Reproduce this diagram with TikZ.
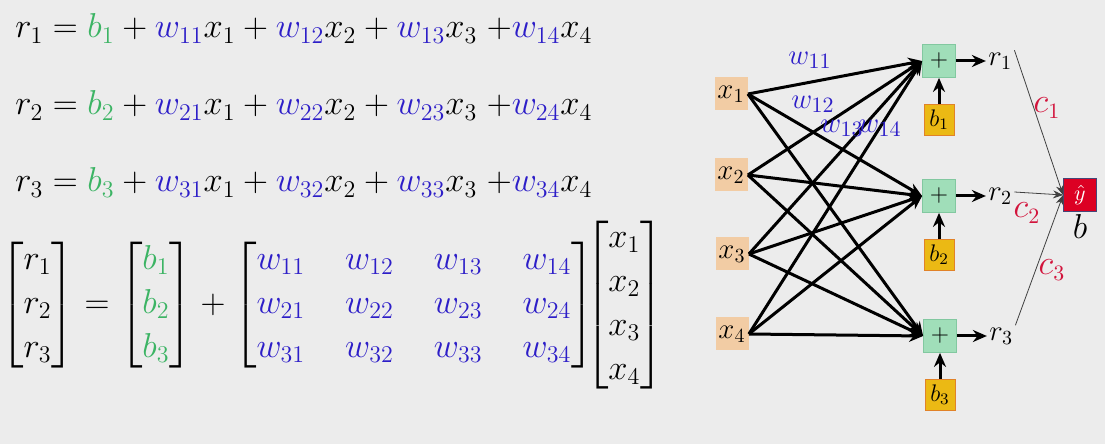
\documentclass[tikz,border=0pt]{standalone}
\usepackage{amsmath}
\usepackage{amssymb}
\usetikzlibrary{
  arrows.meta,  % Stealth 箭头
  positioning   % 节点相对定位
}
\definecolor{bggray}{RGB}{236,236,236}
\definecolor{wblue}{RGB}{45,30,200}
\definecolor{bgreen}{RGB}{60,180,100}
\definecolor{cred}{RGB}{210,20,60}
\definecolor{xfill}{RGB}{242,204,164}
\definecolor{sfill}{RGB}{160,222,185}
\definecolor{sdraw}{RGB}{130,200,160}
\definecolor{bfill}{RGB}{235,185,20}
\definecolor{bdraw}{RGB}{225,130,40}
\definecolor{yfill}{RGB}{220,0,35}
\definecolor{ydraw}{RGB}{70,70,120}

% 权重与偏置的着色
\newcommand{\wc}[1]{\textcolor{wblue}{w_{#1}}}
\newcommand{\bc}[1]{\textcolor{bgreen}{b_{#1}}}

\begin{document}
\begin{tikzpicture}[>=Stealth, x=0.5pt, y=-0.5pt, % 以原图像素为坐标，y 轴向下
  eqn/.style={anchor=base west, inner sep=0pt, font=\fontsize{17}{21.5}\selectfont},
  xbox/.style={fill=xfill, minimum size=16.5pt, inner sep=0pt, font=\fontsize{14}{16}\selectfont},
  sumbox/.style={fill=sfill, draw=sdraw, thin, minimum size=16.5pt, inner sep=0pt, font=\fontsize{12}{14}\selectfont},
  biasbox/.style={fill=bfill, draw=bdraw, thin, minimum width=15pt, minimum height=15.5pt, inner sep=0pt, font=\fontsize{12}{14}\selectfont},
  outbox/.style={fill=yfill, draw=ydraw, thin, minimum size=16.5pt, inner sep=0pt, text=white, font=\fontsize{11}{13}\selectfont},
  rlab/.style={inner sep=1pt, font=\fontsize{14}{16}\selectfont},
  wlab/.style={inner sep=0pt, text=wblue, font=\fontsize{15}{17}\selectfont},
  clab/.style={inner sep=0pt, text=cred, font=\fontsize{16}{18}\selectfont},
  wire/.style={-{Stealth[length=7pt, width=6pt]}, line width=1.5pt},
  thinwire/.style={-{Stealth[length=5pt, width=4pt]}, line width=0.4pt, draw=black!75}
]
  \useasboundingbox (0,0) rectangle (1105,444);
  \fill[bggray] (0,0) rectangle (1105,444);

  % =============== 左侧：逐行展开的线性方程 ===============
  \node[eqn] (eq1) at (15,38)  {$r_1 = \bc{1} + \wc{11}x_1 + \wc{12}x_2 + \wc{13}x_3\;{+}\wc{14}x_4$};
  \node[eqn] (eq2) at (15,115) {$r_2 = \bc{2} + \wc{21}x_1 + \wc{22}x_2 + \wc{23}x_3\;{+}\wc{24}x_4$};
  \node[eqn] (eq3) at (15,192) {$r_3 = \bc{3} + \wc{31}x_1 + \wc{32}x_2 + \wc{33}x_3\;{+}\wc{34}x_4$};

  % 矩阵形式
  \node[eqn, anchor=west, font=\fontsize{17.5}{22}\selectfont] (meq) at (0,305) {$
    \begin{bmatrix} r_1\\ r_2\\ r_3 \end{bmatrix}
    = \begin{bmatrix} \bc{1}\\ \bc{2}\\ \bc{3} \end{bmatrix}
    + {\setlength\arraycolsep{10pt}\begin{bmatrix}
        \wc{11} & \wc{12} & \wc{13} & \wc{14}\\
        \wc{21} & \wc{22} & \wc{23} & \wc{24}\\
        \wc{31} & \wc{32} & \wc{33} & \wc{34}
      \end{bmatrix}}\mkern-8mu
    \begin{bmatrix} x_1\\ x_2\\ x_3\\ x_4 \end{bmatrix}$};

  % =============== 右侧：网络结构 ===============
  % 输入
  \node[xbox] (x1) at (731,94)  {$x_1$};
  \node[xbox] (x2) at (731,175) {$x_2$};
  \node[xbox] (x3) at (732,254) {$x_3$};
  \node[xbox] (x4) at (732,334) {$x_4$};

  % 求和节点、偏置与输出
  \node[sumbox] (s1) at (939,61)  {$+$};
  \node[sumbox] (s2) at (939,196) {$+$};
  \node[sumbox] (s3) at (940,336) {$+$};
  \node[biasbox, below=13pt of s1] (b1) {$b_1$};
  \node[biasbox, below=13pt of s2] (b2) {$b_2$};
  \node[biasbox, below=13pt of s3] (b3) {$b_3$};
  \node[rlab, right=15pt of s1] (r1) {$r_1$};
  \node[rlab, right=15pt of s2] (r2) {$r_2$};
  \node[rlab, right=15pt of s3] (r3) {$r_3$};

  % 输入到求和的全连接
  \foreach \i in {1,...,4}
    \foreach \j in {1,2,3}
      \draw[wire] (x\i.east) -- (s\j.west);
  \foreach \j in {1,2,3} {
    \draw[wire] (b\j) -- (s\j);
    \draw[wire] (s\j) -- (r\j);
  }

  % 权重标注
  \node[wlab] (w11) at (810,60)  {$w_{11}$};
  \node[wlab] (w12) at (813,104) {$w_{12}$};
  \node[wlab] (w13) at (842,128) {$w_{13}$};
  \node[wlab] (w14) at (880,128) {$w_{14}$};

  % 汇总到 y-hat
  \node[outbox] (yhat) at (1080,195) {$\hat{y}$};
  \node[below=0pt of yhat, inner sep=1pt, font=\fontsize{18}{20}\selectfont] (bout) {$b$};
  \draw[thinwire] (r1.north east) -- (yhat.west);
  \draw[thinwire] ([yshift=2pt]r2.east) -- (yhat.west);
  \draw[thinwire] (r3.north east) -- (yhat.west);
  \node[clab] (c1) at (1047,108) {$c_1$};
  \node[clab] (c2) at (1027,213) {$c_2$};
  \node[clab] (c3) at (1052,270) {$c_3$};

\end{tikzpicture}
\end{document}
